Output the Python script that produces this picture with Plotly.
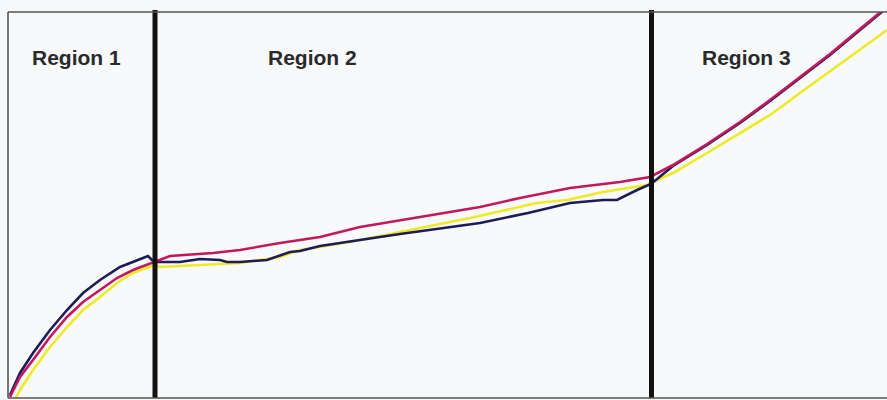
import plotly.graph_objects as go

# Load traces: time (s) against load (lbs) for three test specimens
navy_t = [0.2, 1.2, 2.5, 4.2, 5.9, 7.5, 9.2, 11.2, 13.5, 14.0, 14.4, 14.7, 17.2, 19.2, 21.2, 21.9,
          23.2, 25.9, 28.2, 29.2, 31.2, 39.2, 47.2, 52.0, 56.2, 59.5, 60.9, 62.9, 64.3,
          66.5, 69.9, 73.2, 76.2, 79.2, 82.2, 85.2, 87.5]
navy_load = [3, 25, 45, 68, 88, 105, 118, 131, 140, 142, 138, 136, 136, 139, 138, 136,
             136, 138, 146, 147, 152, 164, 175, 185, 195, 198, 198, 208, 214,
             232, 253, 275, 297, 320, 343, 368, 387]

magenta_t = [0.2, 1.2, 2.5, 4.2, 5.9, 7.5, 9.2, 10.9, 12.5, 14.7, 15.2, 16.2, 20.5, 23.2, 27.2,
             29.2, 31.2, 35.2, 41.2, 47.2, 51.2, 56.2, 61.2, 64.2, 66.5, 69.9, 73.2, 76.2,
             79.2, 82.2, 85.2, 87.5]
magenta_load = [1, 21, 38, 61, 81, 96, 108, 120, 128, 136, 138, 142, 145, 148, 155,
                158, 161, 171, 181, 191, 200, 210, 216, 221, 233, 254, 276, 298,
                321, 344, 369, 388]

yellow_t = [0.8, 1.2, 2.5, 4.2, 5.9, 7.5, 9.2, 10.9, 12.5, 14.7, 15.2, 19.9, 23.2, 27.2, 29.2,
            31.2, 35.2, 41.2, 46.2, 52.9, 55.9, 59.5, 63.9, 64.5, 66.5, 69.9, 73.2, 76.2,
            79.2, 84.2, 87.9]
yellow_load = [0, 8, 28, 51, 71, 88, 101, 115, 125, 133, 131, 133, 135, 141, 148,
               151, 158, 170, 180, 195, 198, 206, 213, 216, 225, 245, 265, 283,
               305, 341, 368]

region_labels = ["Region 1", "Region 2", "Region 3"]
region_label_t = [6.8, 30.4, 73.8]
region_bounds_t = [14.7, 64.35]

T_MAX = 87.9
LOAD_MAX = 386

fig = go.Figure()

for t, load, color in [
    (yellow_t, yellow_load, "#eeea24"),
    (navy_t, navy_load, "#1d1b58"),
    (magenta_t, magenta_load, "#c4185c"),
]:
    fig.add_trace(go.Scatter(x=t, y=load, mode="lines",
                             line=dict(color=color, width=2.6),
                             showlegend=False, hoverinfo="skip"))

# thick region dividers
for tb in region_bounds_t:
    fig.add_shape(type="line", xref="x", yref="paper", x0=tb, x1=tb, y0=0, y1=1.005,
                  line=dict(color="#111111", width=5), layer="above")

# frame: left, top, bottom
frame = dict(color="#555555", width=1.6)
fig.add_shape(type="line", xref="paper", yref="paper", x0=0, x1=0, y0=0, y1=1, line=frame)
fig.add_shape(type="line", xref="paper", yref="paper", x0=0, x1=1, y0=1, y1=1, line=frame)
fig.add_shape(type="line", xref="paper", yref="paper", x0=0, x1=1, y0=0, y1=0, line=frame)

for label, tx in zip(region_labels, region_label_t):
    fig.add_annotation(x=tx, y=341, xref="x", yref="y", text=label, showarrow=False,
                       font=dict(family="Liberation Sans, Arial, sans-serif", size=21,
                                 color="#2a2a2a", weight="bold"),
                       xanchor="center", yanchor="middle")

fig.update_xaxes(range=[0, T_MAX], visible=False, showgrid=False, zeroline=False)
fig.update_yaxes(range=[0, LOAD_MAX], visible=False, showgrid=False, zeroline=False)

fig.update_layout(
    width=887, height=400,
    margin=dict(l=8, r=0, t=12, b=2),
    paper_bgcolor="#f6f8fa",
    plot_bgcolor="#f7f9fb",
)

fig.write_html("out.html")
